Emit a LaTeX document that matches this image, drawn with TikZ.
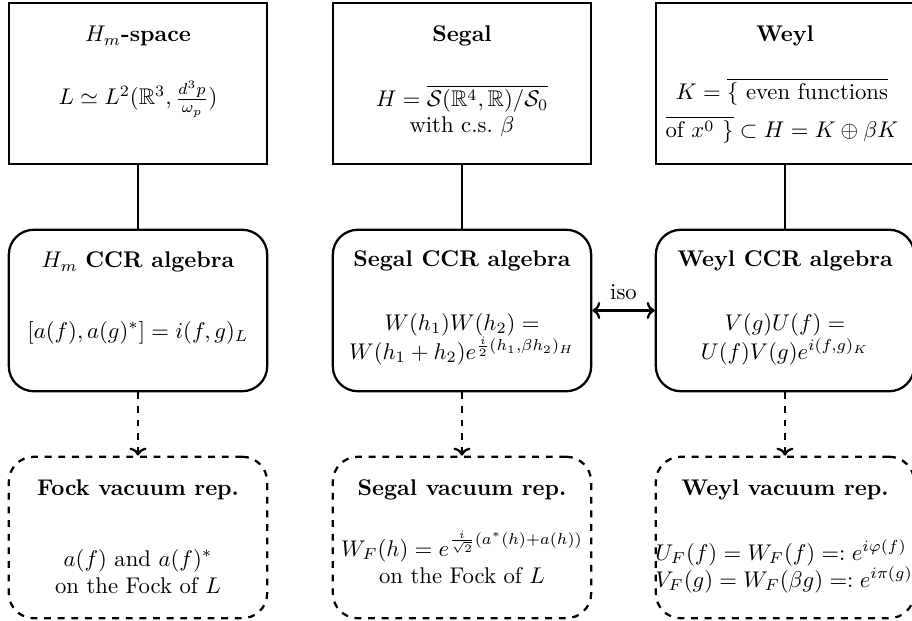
\documentclass[tikz,border=0pt]{standalone}
\usepackage{amsmath,amssymb}
\usetikzlibrary{arrows.meta}
\begin{document}
\begin{tikzpicture}[x=0.4405pt,y=-0.4405pt,
  box/.style={draw,line width=1pt,minimum width=4cm,minimum height=2.5cm,inner sep=0pt},
  algbox/.style={box,rounded corners=11pt},
  repbox/.style={box,dashed,rounded corners=11pt},
  lbl/.style={anchor=base,inner sep=0pt},
  lblw/.style={anchor=base west,inner sep=0pt},
  link/.style={line width=1pt},
  maps/.style={line width=1pt,dashed,-{To[length=3.5pt,width=7.5pt]}},
  iso/.style={line width=1pt,{To[length=3.5pt,width=7.5pt]}-{To[length=3.5pt,width=7.5pt]}}]
\useasboundingbox (0,0) rectangle (912,621);

% one-particle spaces
\node[box] (hm)    at (138,83.5) {};
\node[box] (segal) at (462,83.5) {};
\node[box] (weyl)  at (785,83.5) {};

% CCR algebras
\node[algbox] (hmalg)    at (138,310.5) {};
\node[algbox] (segalalg) at (462,310.5) {};
\node[algbox] (weylalg)  at (785,310.5) {};

% vacuum representations
\node[repbox] (fockrep)  at (138,537.5) {};
\node[repbox] (segalrep) at (462,537.5) {};
\node[repbox] (weylrep)  at (785,537.5) {};

% texts of the spaces
\node[lbl] (hmT) at (138,42) {$H_m$\textbf{-space}};
\node[lbl] (hmB) at (138,105) {$L \simeq L^2(\mathbb{R}^3, \frac{d^3p}{\omega_p})$};
\node[lbl] (sgT) at (462,42) {\textbf{Segal}};
\node[lbl] (sgB) at (462,107) {$H = \overline{\mathcal{S}(\mathbb{R}^4,\mathbb{R})/\mathcal{S}_0}$};
\node[lbl] (sgC) at (462,133) {with c.s.\ $\beta$};
\node[lbl] (wyT) at (785,42) {\textbf{Weyl}};
\node[lbl] (wyB) at (782,100) {$K = \overline{\{\text{ even functions}}$};
\node[lbl] (wyC) at (782,138) {$\overline{\text{of } x^0\ \}} \subset H = K \oplus \beta K$};

% texts of the algebras
\node[lbl] (haT) at (138,268) {$H_m$ \textbf{CCR algebra}};
\node[lbl] (haB) at (138,338) {$[a(f), a(g)^*] = i(f,g)_L$};
\node[lbl] (saT) at (462,267) {\textbf{Segal CCR algebra}};
\node[lbl] (saB) at (462,330) {$W(h_1)W(h_2) =$};
\node[lbl] (saC) at (462,359) {$W(h_1+h_2)e^{\frac{i}{2}(h_1,\beta h_2)_H}$};
\node[lbl] (waT) at (785,267) {\textbf{Weyl CCR algebra}};
\node[lbl] (waB) at (785,330) {$V(g)U(f) =$};
\node[lbl] (waC) at (785,359) {$U(f)V(g)e^{i(f,g)_K}$};

% texts of the representations
\node[lbl] (frT) at (138,495) {\textbf{Fock vacuum rep.}};
\node[lbl] (frB) at (138,566) {$a(f)$ and $a(f)^*$};
\node[lbl] (frC) at (138,593) {on the Fock of $L$};
\node[lbl] (srT) at (462,495) {\textbf{Segal vacuum rep.}};
\node[lbl] (srB) at (462,556) {$W_F(h) = e^{\frac{i}{\sqrt{2}}(a^*(h)+a(h))}$};
\node[lbl] (srC) at (462,583) {on the Fock of $L$};
\node[lbl] (wrT) at (785,495) {\textbf{Weyl vacuum rep.}};
\node[lblw] (wrB) at (655,560) {$U_F(f) = W_F(f) =: e^{i\varphi(f)}$};
\node[lblw] (wrC) at (655,587) {$V_F(g) = W_F(\beta g) =: e^{i\pi(g)}$};

% connectors
\draw[link] (hm) -- (hmalg);
\draw[link] (segal) -- (segalalg);
\draw[link] (weyl) -- (weylalg);
\draw[maps] (hmalg) -- (fockrep);
\draw[maps] (segalalg) -- (segalrep);
\draw[maps] (weylalg) -- (weylrep);
\draw[iso] (segalalg) -- node[above=1pt] {iso} (weylalg);
\end{tikzpicture}
\end{document}
